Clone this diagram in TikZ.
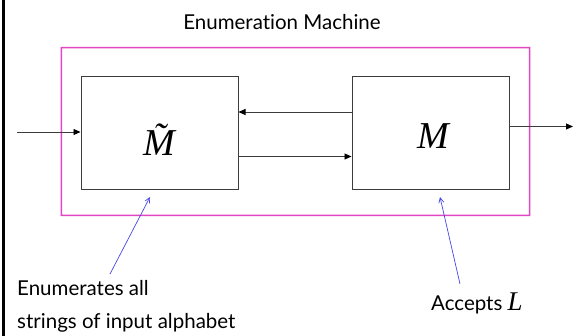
\documentclass[tikz,border=0pt]{standalone}
\usepackage{fontspec}
\setmainfont[Ligatures=NoCommon]{Lato}
\newfontfamily\mathserif{Liberation Serif}
\usetikzlibrary{arrows.meta}
\definecolor{framepink}{RGB}{226,70,194}
\definecolor{pointerblue}{RGB}{70,70,230}
\definecolor{boxgray}{RGB}{60,60,60}
\tikzset{
  machine/.style={draw=boxgray, line width=1pt, minimum width=157pt, minimum height=113pt, inner sep=0pt},
  flow/.style={draw=boxgray, line width=0.9pt, -{Triangle[length=7pt,width=6pt,color=black]}},
  pointer/.style={draw=pointerblue, line width=0.7pt, -{Straight Barb[length=5pt,width=5pt]}},
  caption/.style={font=\fontsize{20.5}{23}\selectfont, inner sep=0pt, anchor=base west},
  symbol/.style={font=\fontsize{38}{40}\selectfont\mathserif\itshape, inner sep=0pt}
}
\begin{document}
\begin{tikzpicture}[x=1pt,y=-1pt]
  \useasboundingbox (0,0) rectangle (573,336);
  % left rule
  \draw[line width=3pt] (3.5,0) -- (3.5,336);
  % title
  \node[caption, anchor=base] (title) at (282,30) {Enumeration Machine};
  % enclosing machine frame, filled as a thin ring
  \fill[framepink, even odd rule] (60.7,47.0) rectangle (530.3,216.1)
                                  (62.2,48.5) rectangle (528.8,214.6);
  % the two machines
  \node[machine] (mt) at (159.5,133.5) {};
  \node[machine] (m) at (430.5,133.5) {};
  \node[symbol] (mtl) at (159,140) {\~{M}};
  \node[symbol] (ml) at (433,136) {M};
  % connectors
  \coordinate (in) at (17,132);
  \coordinate (out) at (573,126.5);
  \draw[flow] (in) -- (mt.west |- in);
  \draw[flow] (m.west |- 0,112) -- (mt.east |- 0,112);
  \draw[flow] (mt.east |- 0,156.5) -- (m.west |- 0,156.5);
  \draw[flow] (m.east |- out) -- (out);
  % captions
  \node[caption] (enum1) at (17,296) {Enumerates all};
  \node[caption] (enum2) at (17,329) {strings of input alphabet};
  \node[caption] (acc) at (431,311) {Accepts {\fontsize{27}{27}\selectfont\mathserif\itshape L}};
  % pointers
  \coordinate (p1) at (110,274);
  \coordinate (p2) at (460,284);
  \draw[pointer] (p1) -- (150,197);
  \draw[pointer] (p2) -- (440,197);
\end{tikzpicture}
\end{document}
